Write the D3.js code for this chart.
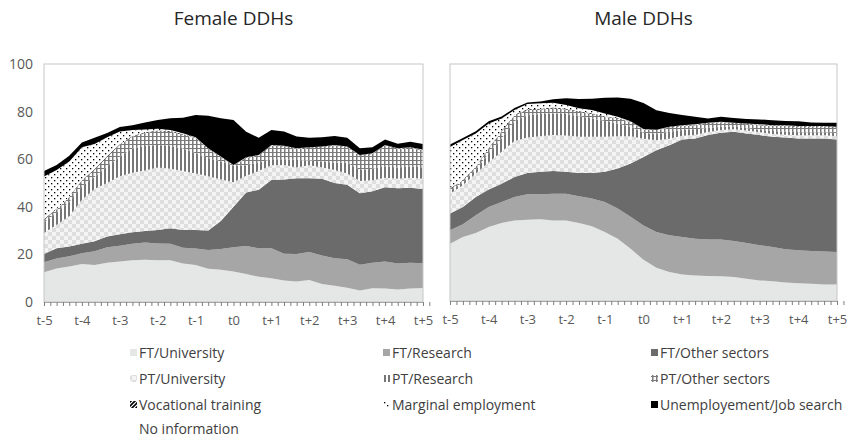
<!DOCTYPE html>
<html>
<head>
<meta charset="utf-8">
<script src="https://cdn.jsdelivr.net/npm/d3@7"></script>
<style>
    body { margin: 0; background: #fff; }
    text { font-family: 'Open Sans', sans-serif; }
</style>
</head>
<body>
<div id="chart-area"></div>
<script>
/*
*    Employment status of DDHs around t0, stacked areas by sex
*/

// Year labels (one every 3 points, points every 4 months)
const yearLabels = ['t-5', 't-4', 't-3', 't-2', 't-1', 't0', 't+1', 't+2', 't+3', 't+4', 't+5'];
const yTicks = [0, 20, 40, 60, 80, 100];

// Series names (stack order, bottom to top)
const seriesNames = ['FT/University', 'FT/Research', 'FT/Other sectors',
    'PT/University', 'PT/Research', 'PT/Other sectors',
    'Vocational training', 'Marginal employment', 'Unemployement/Job search', 'No information'];

// Female DDHs (%)
const fFtUni = [12.5, 14.1, 14.9, 16.0, 15.5, 16.5, 17.0, 17.5, 17.8, 17.5, 17.5, 16.2, 15.5, 14.0, 13.5, 12.8, 11.8, 10.6, 10.0, 9.0, 8.6, 9.2, 7.6, 6.8, 6.0, 4.8, 5.8, 5.7, 5.3, 5.7, 5.9];
const fFtRes = [4.2, 4.2, 4.3, 4.5, 5.8, 6.5, 6.6, 7.0, 7.2, 7.1, 7.0, 6.6, 7.0, 7.8, 8.8, 10.2, 11.7, 12.0, 12.6, 11.3, 11.6, 11.8, 11.9, 11.6, 12.0, 10.8, 10.7, 11.3, 10.9, 10.8, 10.4];
const fFtOth = [3.5, 4.3, 4.1, 4.0, 4.2, 4.5, 4.9, 4.8, 4.8, 5.7, 6.5, 7.5, 7.7, 8.2, 11.7, 17.0, 22.5, 24.6, 28.7, 31.2, 31.8, 31.0, 32.3, 31.6, 31.3, 30.1, 30.0, 31.2, 31.6, 31.5, 31.2];
const fPtUni = [8.8, 9.9, 12.7, 18.5, 22.0, 22.5, 24.3, 25.0, 25.5, 26.2, 25.0, 24.7, 23.8, 22.8, 17.5, 10.3, 7.0, 7.8, 6.2, 6.1, 4.5, 5.5, 4.7, 5.5, 4.7, 5.1, 4.7, 4.0, 4.0, 4.2, 4.3];
const fPtRes = [4.5, 5.0, 6.0, 5.5, 5.0, 7.0, 8.2, 10.2, 10.2, 9.5, 9.5, 9.5, 8.5, 7.7, 7.5, 7.0, 4.5, 3.5, 2.5, 2.4, 3.2, 2.0, 2.5, 3.0, 4.5, 4.7, 4.8, 4.8, 4.7, 4.8, 4.7];
const fPtOth = [1.0, 1.5, 2.0, 2.5, 3.0, 4.0, 5.0, 5.0, 5.5, 5.8, 6.0, 5.8, 6.3, 3.8, 1.8, 0.1, 3.0, 3.0, 5.7, 5.3, 4.6, 5.2, 6.0, 7.2, 6.5, 6.0, 6.2, 8.7, 7.8, 7.7, 7.3];
const fVoc = [0.3, 0.3, 0.3, 0.3, 0.3, 0.3, 0.3, 0.3, 0.3, 0.3, 0.3, 0.3, 0.2, 0.2, 0.2, 0.1, 0.2, 0.2, 0.2, 0.2, 0.2, 0.2, 0.2, 0.2, 0.2, 0.2, 0.2, 0.2, 0.2, 0.2, 0.2];
const fMarg = [17.9, 16.2, 14.7, 13.7, 10.6, 7.9, 5.3, 2.5, 1.2, 0.7, 0.5, 0.3, 0.2, 0.1, 0.1, 0.1, 0.1, 0.1, 0.1, 0.1, 0.1, 0.1, 0.1, 0.1, 0.1, 0.1, 0.1, 0.1, 0.1, 0.1, 0.1];
const fUnemp = [2.3, 2.1, 2.5, 2.0, 2.6, 1.8, 1.9, 2.0, 2.9, 3.7, 4.9, 6.5, 9.4, 13.7, 16.1, 18.9, 10.7, 7.2, 6.3, 6.0, 4.9, 4.0, 3.9, 3.7, 3.7, 2.8, 2.5, 2.3, 1.9, 2.3, 2.3];
const fNoInfo = [45.0, 42.4, 38.5, 33.0, 31.0, 29.0, 26.5, 25.7, 24.6, 23.5, 22.8, 22.6, 21.4, 21.7, 22.8, 23.5, 28.5, 31.0, 27.7, 28.4, 30.5, 31.0, 30.8, 30.3, 31.0, 35.4, 35.0, 31.7, 33.5, 32.7, 33.6];

// Male DDHs (%)
const mFtUni = [24.2, 27.0, 28.7, 31.2, 32.9, 34.0, 34.3, 34.5, 34.0, 34.0, 32.9, 31.5, 29.1, 26.3, 22.0, 17.4, 14.0, 12.2, 11.2, 10.8, 10.5, 10.4, 10.1, 9.4, 8.7, 8.3, 7.8, 7.5, 7.3, 7.0, 7.0];
const mFtRes = [5.6, 5.4, 7.5, 8.5, 8.9, 9.9, 10.7, 10.5, 11.3, 11.3, 11.3, 11.7, 12.7, 12.7, 13.5, 14.5, 15.1, 15.5, 15.8, 15.5, 15.5, 15.5, 15.2, 15.1, 14.8, 14.5, 14.0, 13.9, 13.8, 13.9, 13.7];
const mFtOth = [7.1, 7.3, 7.7, 7.3, 7.7, 8.4, 9.0, 9.5, 9.6, 9.2, 9.8, 10.8, 12.7, 16.9, 22.5, 28.9, 34.5, 38.0, 41.1, 42.3, 44.0, 45.1, 46.1, 46.2, 46.5, 46.5, 47.2, 47.2, 47.5, 47.7, 47.4];
const mPtUni = [8.4, 9.1, 9.9, 11.5, 13.5, 15.2, 15.0, 15.0, 15.1, 15.3, 15.3, 15.3, 14.8, 13.6, 11.5, 7.7, 4.2, 2.8, 1.6, 1.4, 1.3, 1.2, 1.1, 1.2, 1.2, 1.2, 1.2, 1.3, 1.3, 1.3, 1.4];
const mPtRes = [1.2, 1.2, 1.7, 3.7, 5.6, 8.5, 9.4, 9.4, 9.1, 9.1, 8.7, 7.7, 6.7, 5.4, 4.0, 2.5, 2.6, 2.9, 2.4, 2.5, 1.7, 1.3, 1.1, 1.0, 1.1, 1.2, 1.3, 1.3, 1.3, 1.3, 1.4];
const mPtOth = [0.7, 0.8, 1.1, 2.1, 2.8, 2.4, 2.2, 1.9, 2.2, 1.9, 1.8, 1.9, 1.7, 2.1, 2.0, 1.4, 1.7, 1.8, 1.7, 1.7, 1.9, 1.7, 1.3, 1.7, 1.9, 2.1, 2.3, 2.3, 2.3, 2.3, 2.3];
const mVoc = [0.3, 0.3, 0.3, 0.3, 0.3, 0.3, 0.3, 0.3, 0.3, 0.3, 0.3, 0.3, 0.3, 0.2, 0.2, 0.1, 0.1, 0.2, 0.2, 0.2, 0.2, 0.2, 0.2, 0.2, 0.2, 0.2, 0.2, 0.2, 0.2, 0.2, 0.2];
const mMarg = [17.5, 16.8, 13.8, 10.3, 5.3, 1.9, 2.2, 2.3, 2.1, 1.6, 1.2, 1.4, 1.1, 0.5, 0.1, 0.1, 0.1, 0.1, 0.2, 0.2, 0.1, 0.2, 0.1, 0.1, 0.2, 0.2, 0.2, 0.1, 0.1, 0.1, 0.1];
const mUnemp = [1.0, 0.9, 0.9, 0.9, 0.8, 0.8, 0.7, 0.8, 1.4, 2.8, 3.9, 4.7, 6.7, 8.2, 9.5, 10.9, 8.2, 5.8, 4.3, 3.1, 1.8, 2.1, 2.0, 1.9, 2.0, 2.1, 1.8, 2.0, 1.5, 1.4, 1.7];
const mNoInfo = [34.0, 31.2, 28.4, 24.2, 22.2, 18.6, 16.2, 15.8, 14.9, 14.5, 14.8, 14.7, 14.2, 14.1, 14.7, 16.5, 19.5, 20.7, 21.5, 22.3, 23.0, 22.3, 22.8, 23.2, 23.4, 23.7, 24.0, 24.2, 24.7, 24.8, 24.8];

const femaleSeries = [fFtUni, fFtRes, fFtOth, fPtUni, fPtRes, fPtOth, fVoc, fMarg, fUnemp, fNoInfo];
const maleSeries = [mFtUni, mFtRes, mFtOth, mPtUni, mPtRes, mPtOth, mVoc, mMarg, mUnemp, mNoInfo];

// Build SVG
const svg = d3.select('#chart-area')
    .append('svg')
    .attr('width', 850)
    .attr('height', 438);

// Patterns
const defs = svg.append('defs');

let p = defs.append('pattern').attr('id', 'pat-checker')
    .attr('patternUnits', 'userSpaceOnUse').attr('width', 8).attr('height', 8);
p.append('rect').attr('width', 8).attr('height', 8).attr('fill', '#f4f4f4');
p.append('rect').attr('width', 4).attr('height', 4).attr('fill', '#dedede');
p.append('rect').attr('x', 4).attr('y', 4).attr('width', 4).attr('height', 4).attr('fill', '#dedede');

p = defs.append('pattern').attr('id', 'pat-stripes')
    .attr('patternUnits', 'userSpaceOnUse').attr('width', 4).attr('height', 4);
p.append('rect').attr('width', 4).attr('height', 4).attr('fill', '#fff');
p.append('rect').attr('width', 2).attr('height', 4).attr('fill', '#767676');

p = defs.append('pattern').attr('id', 'pat-grid')
    .attr('patternUnits', 'userSpaceOnUse').attr('width', 4).attr('height', 4);
p.append('rect').attr('width', 4).attr('height', 4).attr('fill', '#fff');
p.append('rect').attr('width', 1.5).attr('height', 4).attr('fill', '#7a7a7a');
p.append('rect').attr('width', 4).attr('height', 1).attr('fill', '#7a7a7a');

p = defs.append('pattern').attr('id', 'pat-diag')
    .attr('patternUnits', 'userSpaceOnUse').attr('width', 4).attr('height', 4);
p.append('rect').attr('width', 4).attr('height', 4).attr('fill', '#fff');
p.append('path').attr('d', 'M-1,1 L1,-1 M0,4 L4,0 M3,5 L5,3')
    .attr('stroke', '#000').attr('stroke-width', 1.6);

p = defs.append('pattern').attr('id', 'pat-dots')
    .attr('patternUnits', 'userSpaceOnUse').attr('width', 6).attr('height', 6);
p.append('rect').attr('width', 6).attr('height', 6).attr('fill', '#fff');
p.append('rect').attr('width', 1.3).attr('height', 1.3).attr('fill', '#000');
p.append('rect').attr('x', 3).attr('y', 3).attr('width', 1.3).attr('height', 1.3).attr('fill', '#000');

const fills = ['#e5e6e6', '#a6a6a6', '#6b6b6b', 'url(#pat-checker)', 'url(#pat-stripes)',
    'url(#pat-grid)', 'url(#pat-diag)', 'url(#pat-dots)', '#000', 'none'];

// Build one panel
const drawPanel = (series, title, left, right, top, bottom, showY) => {
    const g = svg.append('g');

    // Table for the stack
    const table = series[0].map((v, i) => {
        const row = { idx: i };
        seriesNames.forEach((name, j) => { row[name] = series[j][i]; });
        return row;
    });

    // X Scale
    const x = d3.scaleLinear()
        .domain([0, series[0].length - 1])
        .range([left, right]);

    // Y Scale
    const y = d3.scaleLinear()
        .domain([0, 100])
        .range([bottom, top]);

    const stacked = d3.stack().keys(seriesNames)(table);

    const area = d3.area()
        .x((d) => x(d.data.idx))
        .y0((d) => y(d[0]))
        .y1((d) => y(d[1]));

    g.selectAll('path.layer')
        .data(stacked)
        .enter()
        .append('path')
        .attr('class', 'layer')
        .attr('fill', (d, i) => fills[i])
        .attr('d', area);

    // Plot border
    g.append('rect')
        .attr('x', left)
        .attr('y', top)
        .attr('width', right - left)
        .attr('height', bottom - top)
        .attr('fill', 'none')
        .attr('stroke', '#c6c6c6')
        .attr('stroke-width', 1);

    // X Axis (tick marks every 2 months)
    const xAxisCall = d3.axisBottom(x)
        .tickValues(d3.range(0, series[0].length - 0.5 + 0.01, 0.5))
        .tickSize(4)
        .tickPadding(10)
        .tickFormat((d) => (d % 3 === 0 ? yearLabels[d / 3] : ''));
    const xAxis = g.append('g')
        .attr('transform', 'translate(0, ' + bottom + ')')
        .call(xAxisCall);
    xAxis.select('.domain').attr('stroke', '#a6a6a6');
    xAxis.selectAll('.tick line').attr('stroke', '#7f7f7f');
    xAxis.selectAll('text')
        .attr('font-size', '13px')
        .attr('fill', '#595959')
        .style('font-family', "'Open Sans', sans-serif");

    // Y Axis
    if (showY) {
        const yAxisCall = d3.axisLeft(y)
            .tickValues(yTicks)
            .tickSize(0)
            .tickPadding(11);
        const yAxis = g.append('g')
            .attr('transform', 'translate(' + left + ', 0)')
            .call(yAxisCall);
        yAxis.select('.domain').remove();
        yAxis.selectAll('text')
            .attr('font-size', '14px')
            .attr('fill', '#595959')
            .style('font-family', "'Open Sans', sans-serif");
    }

    // Title
    g.append('text')
        .attr('x', (left + right) / 2)
        .attr('y', 25)
        .attr('font-size', '19px')
        .attr('text-anchor', 'middle')
        .attr('fill', '#262626')
        .text(title);
};

drawPanel(femaleSeries, 'Female DDHs', 44, 423, 64, 302, true);
drawPanel(maleSeries, 'Male DDHs', 450, 837, 64, 301, false);

// Legend
const legendX = [139, 392, 660];
const legendY = [353, 379, 405, 429];
const legend = svg.append('g');
seriesNames.forEach((name, i) => {
    const lx = legendX[i % 3];
    const ly = legendY[Math.floor(i / 3)];
    if (fills[i] !== 'none') {
        legend.append('rect')
            .attr('x', lx - 9)
            .attr('y', ly - 4)
            .attr('width', 7)
            .attr('height', 7)
            .attr('fill', fills[i]);
    }
    legend.append('text')
        .attr('x', lx)
        .attr('y', ly)
        .attr('dy', '0.35em')
        .attr('font-size', '14px')
        .attr('fill', '#404040')
        .text(name);
});
</script>
</body>
</html>
